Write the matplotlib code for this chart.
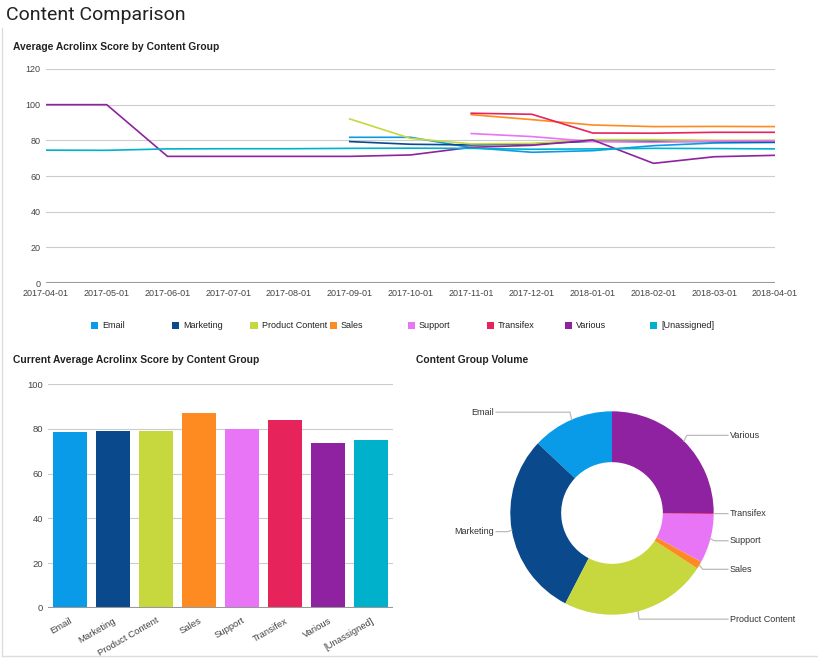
import numpy as np
import matplotlib
matplotlib.use("Agg")
import matplotlib.pyplot as plt
from matplotlib.lines import Line2D
from matplotlib.patches import Rectangle

nan = np.nan

# ---------------- data ----------------
months = ["2017-04-01", "2017-05-01", "2017-06-01", "2017-07-01", "2017-08-01",
          "2017-09-01", "2017-10-01", "2017-11-01", "2017-12-01", "2018-01-01",
          "2018-02-01", "2018-03-01", "2018-04-01"]

groups = ["Email", "Marketing", "Product Content", "Sales", "Support",
          "Transifex", "Various", "[Unassigned]"]

email = [nan, nan, nan, nan, nan, 81.7, 81.7, 75.9, 73.3, 74.2, 77.0, 78.5, 78.8]
marketing = [nan, nan, nan, nan, nan, 79.3, 77.8, 77.4, 78.0, 79.5, 79.5, 79.3, 79.1]
product_content = [nan, nan, nan, nan, nan, 92.0, 81.1, 78.0, 78.3, 80.4, 80.4, 80.0, 80.0]
sales = [nan, nan, nan, nan, nan, nan, nan, 94.4, 91.6, 88.6, 87.7, 87.8, 87.7]
support = [nan, nan, nan, nan, nan, nan, nan, 83.8, 82.1, 79.3, 78.9, 79.6, 79.8]
transifex = [nan, nan, nan, nan, nan, nan, nan, 95.2, 94.6, 84.1, 84.0, 84.5, 84.5]
various = [100.0, 100.0, 71.0, 71.0, 71.0, 71.0, 71.8, 76.1, 77.2, 80.2, 67.1, 70.8, 71.6]
unassigned = [74.5, 74.4, 75.2, 75.3, 75.3, 75.5, 75.6, 75.5, 75.0, 75.2, 75.5, 75.4, 75.2]

current_scores = [78.5, 79.1, 79.3, 87.3, 79.9, 83.9, 73.9, 75.0]

volume_groups = ["Email", "Marketing", "Product Content", "Sales", "Support",
                 "Transifex", "Various"]
volume_share = [13.0, 29.4, 23.4, 1.2, 7.8, 0.15, 25.0]

colors = {
    "Email": "#0a9be8",
    "Marketing": "#0a4a8c",
    "Product Content": "#c6d83e",
    "Sales": "#fe8b21",
    "Support": "#e874f6",
    "Transifex": "#e6235a",
    "Various": "#8e22a0",
    "[Unassigned]": "#00b1cc",
}

series = [email, marketing, product_content, sales, support, transifex,
          various, unassigned]

# ---------------- figure ----------------
W, H = 818, 658
fig = plt.figure(figsize=(W / 100, H / 100), dpi=100)
fig.patch.set_facecolor("white")
FONT = "Liberation Sans"
TICK = "#444444"


def fx(px):
    return px / W


def fy(py):
    return 1 - py / H


# panel border
fig.add_artist(Line2D([fx(1.5), fx(1.5)], [fy(28), fy(656)], color="#dddddd", lw=1))
fig.add_artist(Line2D([fx(1.5), fx(818)], [fy(656), fy(656)], color="#dddddd", lw=1))

fig.text(fx(6), fy(15), "Content Comparison", fontsize=14, family="Roboto",
         color="#222222", ha="left", va="center")

# ---------------- line chart ----------------
ax1 = fig.add_axes([fx(46), fy(283), fx(775) - fx(46), fy(69) - fy(283)])
x = np.arange(len(months))
for name, vals in zip(groups, series):
    ax1.plot(x, vals, color=colors[name], lw=1.2, solid_joinstyle="round")
ax1.set_xlim(0, len(months) - 1)
ax1.set_ylim(0, 120)
ax1.set_yticks(np.arange(0, 121, 20))
ax1.set_xticks(x)
ax1.set_xticklabels(months)
for s in ax1.spines.values():
    s.set_visible(False)
ax1.tick_params(length=0, labelsize=6.5, labelcolor=TICK, pad=4)
for lab in ax1.get_xticklabels() + ax1.get_yticklabels():
    lab.set_family(FONT)
ax1.grid(axis="y", color="#cccccc", lw=0.8)
ax1.set_axisbelow(True)
ax1.axhline(0, color="#999999", lw=1.5, zorder=0.5)
fig.text(fx(13), fy(47), "Average Acrolinx Score by Content Group", fontsize=7.4,
         family=FONT, weight="bold", color="#222222", va="center")

# legend
leg_x = [94, 175, 254, 333, 411, 490, 568, 653]
for lx, name in zip(leg_x, groups):
    fig.add_artist(Rectangle((fx(lx - 3.5), fy(328.5)), fx(7), fy(321.5) - fy(328.5),
                             facecolor=colors[name], edgecolor="none"))
    fig.text(fx(lx + 8), fy(325), name, fontsize=6.5, family=FONT, color="#222222",
             va="center", ha="left")

# ---------------- bar chart ----------------
ax2 = fig.add_axes([fx(48), fy(607.7), fx(393) - fx(48), fy(384.3) - fy(607.7)])
bx = np.arange(len(groups))
ax2.bar(bx, current_scores, width=0.79, color=[colors[g] for g in groups],
        edgecolor="none", zorder=2)
ax2.set_xlim(-0.5, len(groups) - 0.5)
ax2.set_ylim(0, 100)
ax2.set_yticks(np.arange(0, 101, 20))
ax2.set_xticks(bx)
ax2.set_xticklabels(groups, rotation=30, ha="right", rotation_mode="anchor")
for s in ax2.spines.values():
    s.set_visible(False)
ax2.tick_params(length=0, labelsize=6.8, labelcolor=TICK)
ax2.tick_params(axis="x", pad=6)
for lab in ax2.get_xticklabels() + ax2.get_yticklabels():
    lab.set_family(FONT)
ax2.grid(axis="y", color="#cccccc", lw=0.8, zorder=0)
ax2.set_axisbelow(True)
ax2.axhline(0, color="#999999", lw=1.5, zorder=3)
fig.text(fx(13), fy(360), "Current Average Acrolinx Score by Content Group",
         fontsize=7.4, family=FONT, weight="bold", color="#222222", va="center")

# ---------------- donut ----------------
cx, cy, R = 612, 513, 101.7
half = 140
lim = half / R
ax3 = fig.add_axes([fx(cx - half), fy(cy + half), fx(2 * half), fy(0) - fy(2 * half)])
wedges, _ = ax3.pie(volume_share, colors=[colors[g] for g in volume_groups],
                    startangle=90, counterclock=True, radius=1.0,
                    wedgeprops=dict(width=0.5, edgecolor="none"))
ax3.set_xlim(-lim, lim)
ax3.set_ylim(-lim, lim)
ax3.axis("off")
for w, name in zip(wedges, volume_groups):
    mid = np.deg2rad((w.theta1 + w.theta2) / 2)
    c, s = np.cos(mid), np.sin(mid)
    ly = 1.08 * s
    side = 1 if c >= 0 else -1
    xs = [c, 1.04 * c if abs(c) > 0.2 else c + side * 0.01, side * 1.14]
    ys = [s, ly, ly]
    ax3.plot(xs, ys, color="#bbbbbb", lw=0.9, clip_on=False)
    ax3.text(side * 1.16, ly, name, ha="left" if side > 0 else "right", va="center",
             fontsize=6.5, family=FONT, color="#333333", clip_on=False)
fig.text(fx(416), fy(360), "Content Group Volume", fontsize=7.4, family=FONT,
         weight="bold", color="#222222", va="center")

fig.savefig("out.png", dpi=100)
